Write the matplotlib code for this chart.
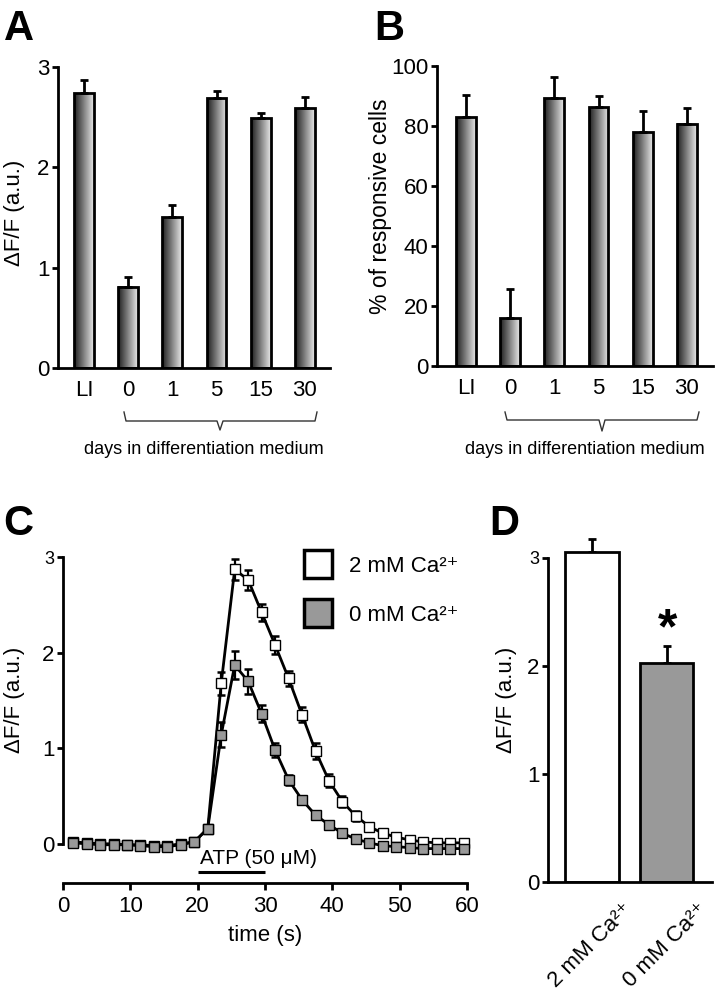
import matplotlib
matplotlib.use('Agg')
import matplotlib.pyplot as plt
import numpy as np
from matplotlib.lines import Line2D
from matplotlib.transforms import ScaledTranslation

plt.rcParams['font.family'] = ['Liberation Sans', 'DejaVu Sans']

W, H, DPI = 716, 990, 100

# ---------------- data ----------------
groups = ['LI', '0', '1', '5', '15', '30']
a_mean = [2.74, 0.81, 1.50, 2.69, 2.49, 2.59]
a_err = [0.13, 0.10, 0.12, 0.07, 0.05, 0.11]
b_mean = [83.0, 16.0, 89.3, 86.3, 78.0, 80.7]
b_err = [7.3, 9.7, 7.0, 3.7, 7.0, 5.3]

time_s = [1.5, 3.5, 5.5, 7.5, 9.5, 11.5, 13.5, 15.5, 17.5, 19.5,
          21.5, 23.5, 25.5, 27.5, 29.5, 31.5, 33.5, 35.5, 37.5, 39.5,
          41.5, 43.5, 45.5, 47.5, 49.5, 51.5, 53.5, 55.5, 57.5, 59.5]
ca2_mean = [0.02, 0.01, 0.00, 0.00, -0.01, -0.01, -0.02, -0.02, 0.00, 0.02,
            0.16, 1.68, 2.87, 2.76, 2.42, 2.08, 1.73, 1.35, 0.97, 0.66,
            0.44, 0.29, 0.18, 0.11, 0.07, 0.04, 0.02, 0.01, 0.01, 0.01]
ca2_err = [0.02, 0.02, 0.02, 0.02, 0.02, 0.02, 0.02, 0.02, 0.02, 0.02,
           0.03, 0.12, 0.11, 0.10, 0.09, 0.09, 0.08, 0.08, 0.08, 0.07,
           0.06, 0.05, 0.04, 0.03, 0.02, 0.02, 0.02, 0.02, 0.02, 0.02]
ca0_mean = [0.01, 0.00, -0.01, -0.01, -0.01, -0.02, -0.03, -0.03, -0.01, 0.02,
            0.16, 1.14, 1.87, 1.70, 1.36, 0.98, 0.67, 0.46, 0.30, 0.20,
            0.11, 0.05, 0.01, -0.02, -0.03, -0.04, -0.05, -0.05, -0.05, -0.05]
ca0_err = [0.02, 0.02, 0.02, 0.02, 0.02, 0.02, 0.02, 0.02, 0.02, 0.02,
           0.03, 0.13, 0.15, 0.13, 0.09, 0.07, 0.05, 0.04, 0.03, 0.03,
           0.02, 0.02, 0.02, 0.02, 0.02, 0.02, 0.02, 0.02, 0.02, 0.02]
atp_window = [20, 30]

d_labels = ['2 mM Ca\u00b2\u207a', '0 mM Ca\u00b2\u207a']
d_mean = [3.05, 2.03]
d_err = [0.12, 0.15]

GRAY = '#999999'
LW = 2.0

fig = plt.figure(figsize=(W / DPI, H / DPI), dpi=DPI)


def add_ax(l, t, r, b):
    return fig.add_axes([l / W, 1 - b / H, (r - l) / W, (b - t) / H])


def px(x, y):
    return x / W, 1 - y / H


def style(ax, ymax):
    for s in ['top', 'right']:
        ax.spines[s].set_visible(False)
    for s in ['left', 'bottom']:
        ax.spines[s].set_linewidth(LW)
    ax.spines['left'].set_bounds(0, ymax)
    ax.tick_params(axis='y', direction='out', length=4, width=LW, labelsize=16, pad=2)


def gradient_bars(ax, means, errs, width=0.45):
    grad = np.linspace(0.12, 0.9, 64).reshape(1, -1)
    xs = np.arange(len(means))
    for x, m in zip(xs, means):
        ax.imshow(grad, extent=[x - width / 2, x + width / 2, 0, m], cmap='gray',
                  vmin=0, vmax=1, aspect='auto', interpolation='bilinear', zorder=1)
    ax.bar(xs, means, width=width, facecolor='none', edgecolor='black', linewidth=LW, zorder=2)
    ax.errorbar(xs, means, yerr=[np.zeros(len(errs)), errs], fmt='none', ecolor='black',
                elinewidth=LW, capsize=3, capthick=LW, zorder=1.5, clip_on=False)


def bracket(x0, x1, xm, ytop, ymid, ybot, text_x, text_y):
    pts = [(x0, ytop), (x0 + 2, ymid), (xm - 3, ymid), (xm, ybot), (xm + 3, ymid),
           (x1 - 2, ymid), (x1, ytop)]
    xs = [px(p[0], p[1])[0] for p in pts]
    ys = [px(p[0], p[1])[1] for p in pts]
    fig.add_artist(Line2D(xs, ys, color='#333333', lw=1.0))
    tx, ty = px(text_x, text_y)
    fig.text(tx, ty, 'days in differentiation medium', ha='center', va='center', fontsize=13)


# ---------------- Panel A ----------------
axA = add_ax(58, 67, 330, 368)
gradient_bars(axA, a_mean, a_err)
style(axA, 3)
axA.set_xlim(-0.59, 5.57)
axA.set_ylim(0, 3)
axA.set_yticks([0, 1, 2, 3])
axA.set_xticks(range(len(groups)))
axA.set_xticklabels(groups)
axA.tick_params(axis='x', length=0, labelsize=16, pad=9)
axA.set_ylabel('\u0394F/F (a.u.)', fontsize=16)
axA.yaxis.set_label_coords(-0.121, 0.515)
bracket(124, 317, 220, 412, 421, 430, 204, 450)

# ---------------- Panel B ----------------
axB = add_ax(437, 66, 713, 366)
gradient_bars(axB, b_mean, b_err)
style(axB, 100)
axB.set_xlim(-0.656, 5.59)
axB.set_ylim(0, 100)
axB.set_yticks([0, 20, 40, 60, 80, 100])
axB.set_xticks(range(len(groups)))
axB.set_xticklabels(groups)
axB.tick_params(axis='x', length=0, labelsize=16, pad=9)
axB.set_ylabel('% of responsive cells', fontsize=16.5)
axB.yaxis.set_label_coords(-0.162, 0.533)
bracket(505, 699, 602, 412, 420, 431, 585, 450)

# ---------------- Panel C ----------------
axC = add_ax(63, 557, 467, 883)
for s in ['top', 'right']:
    axC.spines[s].set_visible(False)
for s in ['left', 'bottom']:
    axC.spines[s].set_linewidth(LW)
axC.set_xlim(0, 60)
axC.set_ylim(-0.41, 3.0)
axC.spines['left'].set_bounds(0, 3)
axC.set_yticks([0, 1, 2, 3])
axC.set_xticks([0, 10, 20, 30, 40, 50, 60])
axC.tick_params(axis='y', direction='out', length=4, width=LW, labelsize=16, pad=2)
axC.tick_params(axis='x', direction='out', length=5, width=LW, labelsize=16, pad=4)
axC.get_yticklabels()[-1].set_fontsize(13)

for mean, err, fc, z in [(ca2_mean, ca2_err, 'white', 3), (ca0_mean, ca0_err, GRAY, 4)]:
    axC.errorbar(time_s, mean, yerr=err, fmt='none', ecolor='black', elinewidth=1.6,
                 capsize=2.8, capthick=1.8, zorder=z, clip_on=False)
    axC.plot(time_s, mean, color='black', lw=2.0, marker='s', markersize=6.5,
             markerfacecolor=fc, markeredgecolor='black', markeredgewidth=1.0,
             zorder=z + 0.5, clip_on=False)

axC.plot(atp_window, [-0.29, -0.29], color='black', lw=2.2, clip_on=False, solid_capstyle='butt')
axC.text(atp_window[0] + 0.3, -0.21, 'ATP (50 \u03bcM)', fontsize=15, ha='left', va='baseline')
axC.set_xlabel('time (s)', fontsize=16, labelpad=6)
axC.set_ylabel('\u0394F/F (a.u.)', fontsize=16)
axC.yaxis.set_label_coords(-0.094, 0.561)

handles = [Line2D([], [], ls='none', marker='s', markersize=20, markerfacecolor='white',
                  markeredgecolor='black', markeredgewidth=2.5),
           Line2D([], [], ls='none', marker='s', markersize=20, markerfacecolor=GRAY,
                  markeredgecolor='black', markeredgewidth=2.5)]
lx, ly = px(300, 556)
fig.legend(handles, ['2 mM Ca\u00b2\u207a', '0 mM Ca\u00b2\u207a'], loc='upper left',
           bbox_to_anchor=(lx, ly), frameon=False, fontsize=16, borderpad=0,
           borderaxespad=0, handlelength=1.6, handletextpad=0.6, labelspacing=1.25)

# ---------------- Panel D ----------------
# y=3 sits at pixel 558, 1 unit = 108 px; axis extends to 3.2 so the top bar edge shows
axD = add_ax(548, 536, 712, 882)
for s in ['top', 'right']:
    axD.spines[s].set_visible(False)
for s in ['left', 'bottom']:
    axD.spines[s].set_linewidth(LW)
xd = [1, 2]
axD.bar(xd, d_mean, width=0.72, color=['white', GRAY], edgecolor='black', linewidth=LW, zorder=2)
axD.errorbar(xd, d_mean, yerr=[[0, 0], d_err], fmt='none', ecolor='black', elinewidth=LW,
             capsize=3, capthick=LW, zorder=1.5, clip_on=False)
axD.set_xlim(0.41, 2.61)
axD.set_ylim(0, 3.2)
axD.spines['left'].set_bounds(0, 3)
axD.set_yticks([0, 1, 2, 3])
axD.tick_params(axis='y', direction='out', length=4, width=LW, labelsize=16, pad=2)
axD.get_yticklabels()[-1].set_fontsize(13)
axD.set_xticks([])
for x, lab in zip(xd, d_labels):
    tr = axD.transData + ScaledTranslation(0.30, -0.17, fig.dpi_scale_trans)
    axD.text(x, 0, lab, transform=tr, rotation=45, rotation_mode='anchor',
             ha='right', va='top', fontsize=16, clip_on=False)
axD.annotate('*', xy=(2, d_mean[1] + d_err[1]), xytext=(1, 2), textcoords='offset points',
             ha='center', va='baseline', fontsize=36, fontweight='bold')
axD.set_ylabel('\u0394F/F (a.u.)', fontsize=16)
axD.yaxis.set_label_coords(-0.189, (882 - 700) / (882 - 536))

# ---------------- panel letters ----------------
for letter, (x, y) in zip('ABCD', [(4, 40), (374, 40), (3, 535), (489, 535)]):
    fx, fy = px(x, y)
    fig.text(fx, fy, letter, fontsize=30, fontweight='bold', ha='left', va='baseline')

fig.savefig('out.png', dpi=DPI)
